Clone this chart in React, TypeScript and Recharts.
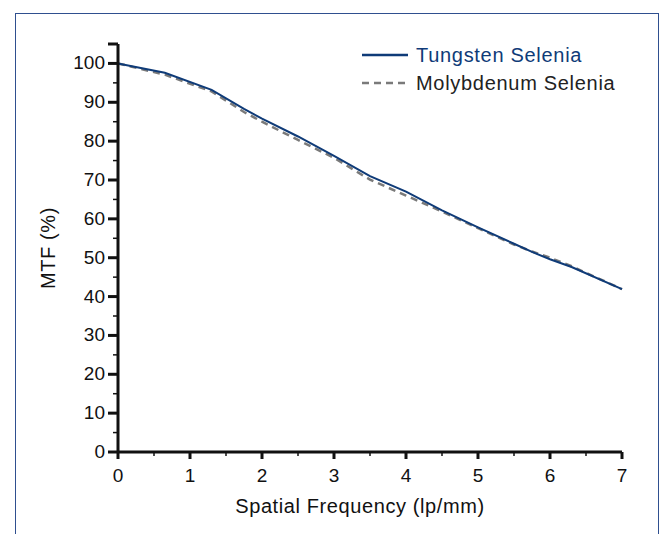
import React from 'react';
import { LineChart, Line, XAxis, YAxis, Label } from 'recharts';

// spatial frequency (lp/mm) and MTF (%)
const freq = [0, 0.65, 1.3, 1.75, 2, 2.5, 3, 3.5, 4, 4.5, 5, 5.5, 5.75, 6, 6.3, 7];
const tungsten = [100, 97.6, 93.2, 88.3, 85.8, 81.2, 76.2, 71.0, 67.0, 62.2, 57.8, 53.6, 51.5, 49.6, 47.6, 41.9];
const molybdenum = [100, 97.1, 92.8, 87.5, 85.0, 80.3, 75.7, 70.1, 66.0, 61.9, 57.6, 53.4, 51.6, 50.0, 47.8, 41.9];

const xTicks = [0, 0.5, 1, 1.5, 2, 2.5, 3, 3.5, 4, 4.5, 5, 5.5, 6, 6.5, 7];
const yTicks = [0, 5, 10, 15, 20, 25, 30, 35, 40, 45, 50, 55, 60, 65, 70, 75, 80, 85, 90, 95, 100, 105];

const seriesNames = ['Tungsten Selenia', 'Molybdenum Selenia'];

const data = freq.map((f, i) => ({ f, tungsten: tungsten[i], molybdenum: molybdenum[i] }));

const FONT = '"Liberation Sans", Arial, Helvetica, sans-serif';
const NAVY = '#0f3b78';
const GRAY = '#7a7a7a';
const INK = '#111';

const XTick = (props: any) => {
  const { x, y, payload } = props;
  const major = Number.isInteger(payload.value);
  return (
    <g>
      <line x1={x} y1={y} x2={x} y2={y + (major ? 7 : 4)} stroke={INK} strokeWidth={major ? 3 : 1.5} />
      {major && (
        <text x={x} y={y + 30} textAnchor="middle" fontSize={19} fill={INK} fontFamily={FONT}>
          {payload.value}
        </text>
      )}
    </g>
  );
};

const YTick = (props: any) => {
  const { x, y, payload } = props;
  const v = payload.value;
  const major = v % 10 === 0 || v === 105;
  return (
    <g>
      <line x1={x} y1={y} x2={x - (major ? 10 : 5)} y2={y} stroke={INK} strokeWidth={major ? 3 : 1.5} />
      {v % 10 === 0 && (
        <text x={x - 13} y={y + 6} textAnchor="end" fontSize={19} fill={INK} fontFamily={FONT}>
          {v}
        </text>
      )}
    </g>
  );
};

const LegendBox = () => (
  <div
    style={{
      position: 'absolute',
      left: 362,
      top: 41,
      fontFamily: FONT,
      fontSize: 20,
      letterSpacing: 0.7,
      lineHeight: '28px',
    }}
  >
    <div style={{ display: 'flex', alignItems: 'center' }}>
      <svg width={54} height={10}>
        <line x1={0} y1={5} x2={46} y2={5} stroke={NAVY} strokeWidth={2.5} />
      </svg>
      <span style={{ color: NAVY }}>{seriesNames[0]}</span>
    </div>
    <div style={{ display: 'flex', alignItems: 'center' }}>
      <svg width={54} height={10}>
        <line x1={0} y1={5} x2={46} y2={5} stroke={GRAY} strokeWidth={2.5} strokeDasharray="7 5" />
      </svg>
      <span style={{ color: '#222' }}>{seriesNames[1]}</span>
    </div>
  </div>
);

export default function App() {
  return (
    <div style={{ position: 'absolute', left: 0, top: 0, width: 662, height: 534, background: '#fff', overflow: 'hidden' }}>
      <div
        style={{
          position: 'absolute',
          left: 15,
          top: 13,
          width: 642,
          height: 540,
          borderTop: '1.5px solid #2f4f8f',
          borderLeft: '1.5px solid #2f4f8f',
          borderRight: '1.5px solid #2f4f8f',
        }}
      />
      <LineChart
        width={662}
        height={534}
        data={data}
        margin={{ top: 44, right: 40, left: 0, bottom: 0 }}
        style={{ position: 'absolute', left: 0, top: 0 }}
      >
        <XAxis
          dataKey="f"
          type="number"
          domain={[0, 7]}
          ticks={xTicks}
          interval={0}
          height={82}
          tickSize={0}
          tickMargin={0}
          tick={<XTick />}
          axisLine={{ stroke: INK, strokeWidth: 3 }}
          tickLine={false}
        >
          <Label
            content={() => (
              <text x={360} y={513} textAnchor="middle" fontSize={20} letterSpacing={0.6} fill={INK} fontFamily={FONT}>
                Spatial Frequency (lp/mm)
              </text>
            )}
          />
        </XAxis>
        <YAxis
          type="number"
          domain={[0, 105]}
          ticks={yTicks}
          interval={0}
          width={118}
          tickSize={0}
          tickMargin={0}
          tick={<YTick />}
          axisLine={{ stroke: INK, strokeWidth: 3 }}
          tickLine={false}
        >
          <Label
            content={() => (
              <text
                x={55}
                y={248}
                transform="rotate(-90, 55, 248)"
                textAnchor="middle"
                fontSize={20}
                letterSpacing={0.6}
                fill={INK}
                fontFamily={FONT}
              >
                MTF (%)
              </text>
            )}
          />
        </YAxis>
        <Line
          type="linear"
          dataKey="molybdenum"
          name={seriesNames[1]}
          stroke={GRAY}
          strokeWidth={2.5}
          strokeDasharray="7 5"
          dot={false}
          isAnimationActive={false}
        />
        <Line
          type="linear"
          dataKey="tungsten"
          name={seriesNames[0]}
          stroke={NAVY}
          strokeWidth={2}
          dot={false}
          isAnimationActive={false}
        />
      </LineChart>
      <LegendBox />
    </div>
  );
}
